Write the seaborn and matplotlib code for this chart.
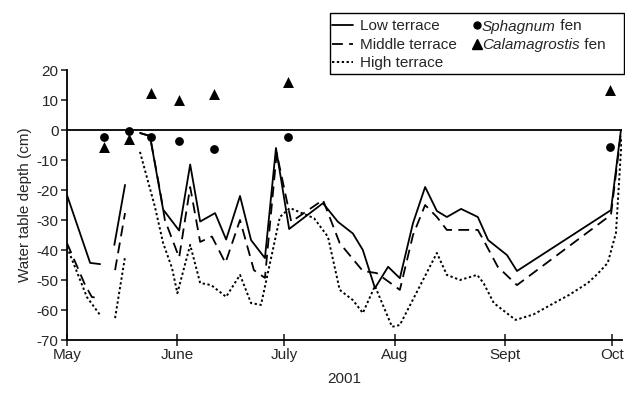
import numpy as np
import pandas as pd
import matplotlib
matplotlib.use("Agg")
import matplotlib.pyplot as plt
from matplotlib.lines import Line2D
from matplotlib.patches import Rectangle
import seaborn as sns

# ---- data (x = days since 1 May 2001; NaN = gap in record) ----
low_days = [0, 6.5, 9.3, np.nan, 13.3, 16.3, np.nan, 20.5, 23.3, 27, 31.5, 34.6, 37.4, 41.6, 44.7,
            48.6, 51.7, 55.6, 58.7, 62.4, 71.9, 76.1, 80.3, 83.1, 86.5, 90.2, 93.5, 97.2, 100.6,
            103.9, 106.7, 110.7, 115.4, 118.3, 123.6, 126.4, 152.8, 155.6]
low_depth = [-21.7, -44.3, -44.7, np.nan, -38.3, -18.3, np.nan, -1, -2, -26.5, -33.5, -11.5, -30.5,
             -27.7, -36.5, -22, -36.7, -42.7, -6, -33, -24.4, -30.6, -34.5, -40, -52.7, -45.6,
             -49.4, -31, -19, -27, -29, -26.3, -29, -36.7, -41.7, -47, -26.7, 0]

mid_days = [0, 5.1, 7, 9.3, np.nan, 13.5, 16.3, np.nan, 20.5, 23.3, 26.1, 27.5, 31.5, 34.6, 37.4,
            40.7, 44.5, 48.6, 52.5, 55.6, 58.9, 63, 71.9, 76.6, 83.1, 87, 93.5, 97.2, 100.6,
            103.9, 106.7, 115.4, 117, 121, 126.4, 152.8, 155.6]
mid_depth = [-37.7, -51.7, -55.7, -56, np.nan, -46.7, -27.7, np.nan, -1, -2, -20, -30, -42.5, -19,
             -37.3, -35.5, -44.3, -30, -46.7, -49.3, -7.7, -30.6, -23.3, -37.7, -47, -47.7,
             -53.3, -35, -25, -29, -33.3, -33.3, -36.7, -45.6, -51.7, -28.3, -1]

high_days = [0, 5.6, 9.3, np.nan, 13.5, 16.3, np.nan, 20.5, 24.7, 27, 29.5, 31, 34.6, 37.4, 40.5,
             44.7, 48.6, 51.7, 54.5, 59.8, 62.6, 69.4, 73.3, 76.6, 80.3, 83.1, 86.5, 91.3, 93.5,
             103.9, 106.7, 110.4, 115.2, 117, 119.9, 126, 131, 136.8, 141, 146.3, 149, 151.9,
             154.2, 155.8]
high_depth = [-39, -55.7, -61.7, np.nan, -62.7, -42.3, np.nan, -7.3, -25.6, -37.7, -46, -54.4,
              -38.3, -51, -51.7, -55.6, -48.3, -57.7, -58.3, -29, -26, -29.4, -35.6, -53.3,
              -56.7, -61, -52, -65.6, -65, -41, -48.3, -50, -48.3, -51, -57.7, -63.3, -61.5,
              -57.7, -55, -51, -48, -44.3, -34.3, -3]

sph_days = [10.4, 17.4, 23.6, 31.5, 41.3, 62.2, 152.5]
sph_depth = [-2.4, -0.3, -2.2, -3.8, -6.3, -2.4, -5.8]
cal_days = [10.4, 17.4, 23.6, 31.5, 41.3, 62.2, 152.5]
cal_depth = [-5.5, -3, 12.3, 10, 12, 16, 13.2]

month_pos = [0, 31, 61, 92, 123, 153]
month_labels = ["May", "June", "July", "Aug", "Sept", "Oct"]
y_ticks = [20, 10, 0, -10, -20, -30, -40, -50, -60, -70]

line_labels = ["Low terrace", "Middle terrace", "High terrace"]
marker_genus = ["Sphagnum", "Calamagrostis"]
marker_suffix = " fen"

# ---- style ----
sns.set_style("white")
plt.rcParams["font.family"] = ["Liberation Sans", "DejaVu Sans"]

FS = 11
W, H = 625, 394
fig = plt.figure(figsize=(6.25, 3.94), dpi=100)
ax = fig.add_axes([67 / W, 1 - 340 / H, (622 - 67) / W, 270 / H])

DASH = (0, (6, 3.5))
DOT = (0, (1.2, 1.3))
styles = {
    "low": dict(ls="-", lw=1.3),
    "mid": dict(ls=DASH, lw=1.3),
    "high": dict(ls=DOT, lw=1.4),
}


def segments(days, depth):
    df = pd.DataFrame({"day": days, "depth": depth})
    df["seg"] = df["day"].isna().cumsum()
    return df.dropna()


for key, d, v in [("low", low_days, low_depth), ("mid", mid_days, mid_depth),
                  ("high", high_days, high_depth)]:
    df = segments(d, v)
    for _, g in df.groupby("seg"):
        sns.lineplot(data=g, x="day", y="depth", ax=ax, color="black", sort=False,
                     estimator=None, linestyle=styles[key]["ls"], linewidth=styles[key]["lw"])

ax.axhline(0, color="black", lw=1.3)

sns.scatterplot(x=sph_days, y=sph_depth, ax=ax, marker="o", color="black", s=40,
                edgecolor="black", linewidth=0, zorder=5)
sns.scatterplot(x=cal_days, y=cal_depth, ax=ax, marker="^", color="black", s=62,
                edgecolor="black", linewidth=0, zorder=5)

ax.set_xlim(0, 155.9)
ax.set_ylim(-70, 20)
ax.set_xticks(month_pos)
ax.set_xticklabels(month_labels, fontsize=FS)
ax.set_yticks(y_ticks)
ax.set_yticklabels([str(t) for t in y_ticks], fontsize=FS)
ax.tick_params(axis="x", direction="inout", length=8, width=1.2, pad=2, bottom=True)
ax.tick_params(axis="y", direction="out", length=4, width=1.2, pad=2, left=True)
for s in ["top", "right"]:
    ax.spines[s].set_visible(False)
for s in ["left", "bottom"]:
    ax.spines[s].set_color("black")
    ax.spines[s].set_linewidth(1.3)
ax.set_xlabel("2001", fontsize=FS, labelpad=7)
ax.set_ylabel("Water table depth (cm)", fontsize=FS, labelpad=3)

# ---- legend, drawn as figure artists in one framed box ----
fx = lambda px: px / W
fy = lambda py: 1 - py / H

fig.add_artist(Rectangle((fx(330), fy(74)), 294 / W, 61 / H, transform=fig.transFigure,
                         facecolor="white", edgecolor="black", lw=1.0, zorder=4))

rows = [25, 43.5, 62]
for key, lab, ry in zip(["low", "mid", "high"], line_labels, rows):
    fig.add_artist(Line2D([fx(332), fx(353)], [fy(ry), fy(ry)], transform=fig.transFigure,
                          color="black", ls=styles[key]["ls"], lw=styles[key]["lw"], zorder=5))
    fig.text(fx(360), fy(ry + 5.5), lab, fontsize=FS, ha="left", va="baseline", zorder=5)

renderer = fig.canvas.get_renderer()
for mk, ms, genus, ry in zip(["o", "^"], [5, 7], marker_genus, rows[:2]):
    fig.add_artist(Line2D([fx(477)], [fy(ry)], transform=fig.transFigure, color="black",
                          ls="none", marker=mk, markersize=ms, zorder=5))
    t = fig.text(fx(482), fy(ry + 5.5), genus, fontsize=FS, style="italic", ha="left",
                 va="baseline", zorder=5)
    x_end = t.get_window_extent(renderer=renderer).x1
    fig.text(x_end / fig.bbox.width, fy(ry + 5.5), marker_suffix, fontsize=FS, ha="left",
             va="baseline", zorder=5)

fig.savefig("out.png", dpi=100)
